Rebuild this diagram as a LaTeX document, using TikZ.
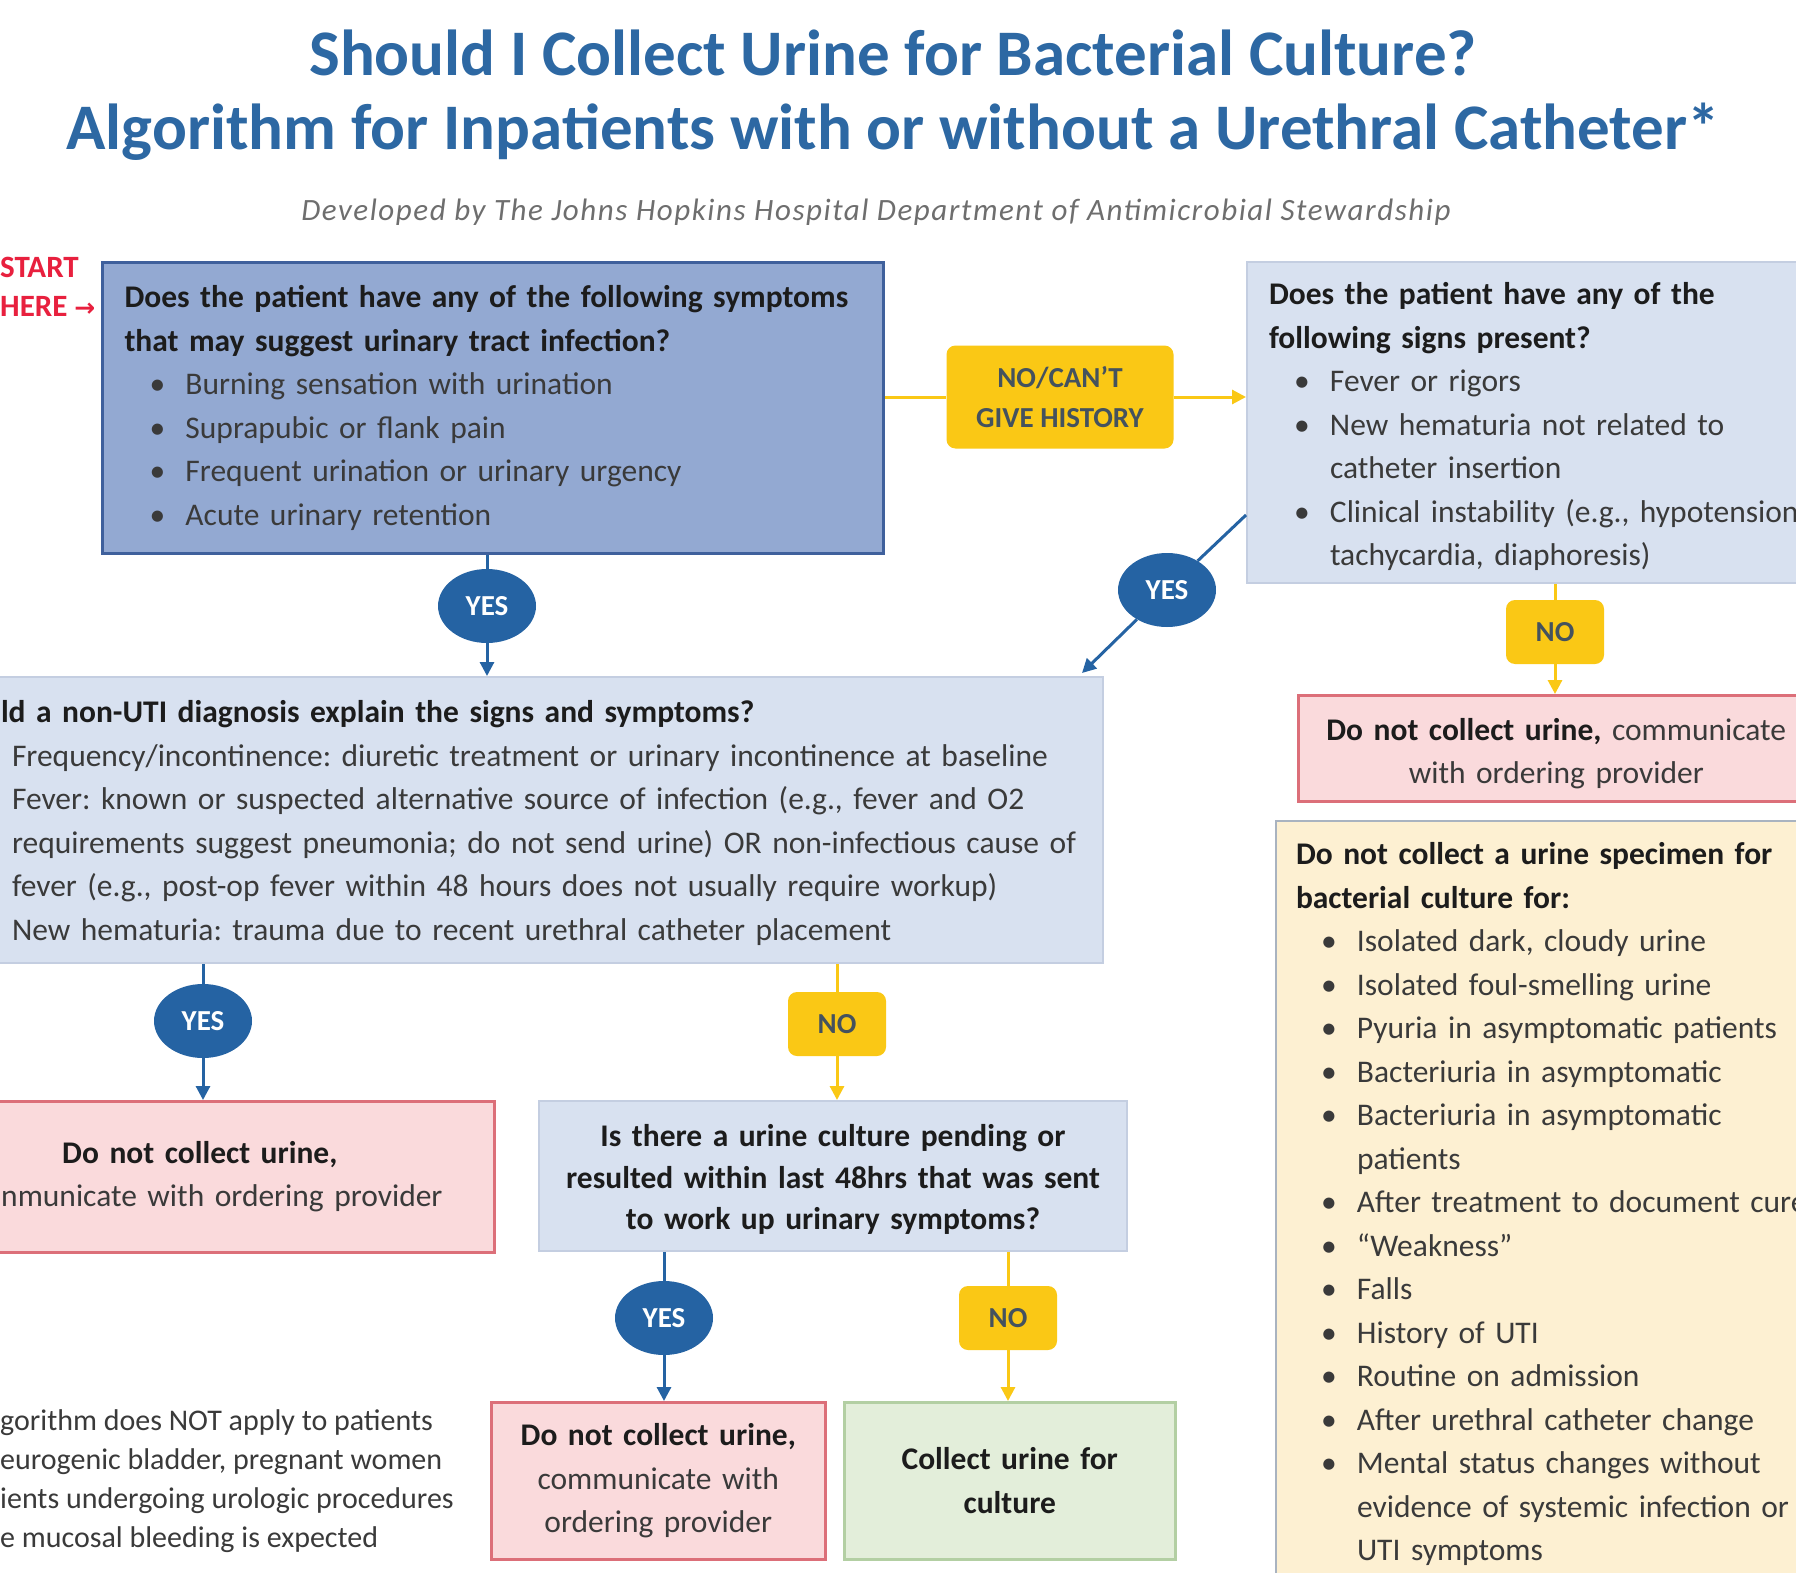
\documentclass[tikz,border=0pt]{standalone}
\usepackage{fontspec}
\setmainfont{Carlito}
\newfontfamily\symfont{DejaVu Sans}
\usetikzlibrary{shapes,arrows.meta}
\frenchspacing

\definecolor{titleblue}{HTML}{2D68A3}
\definecolor{creditgray}{HTML}{6E6E6E}
\definecolor{darkq}{HTML}{93A9D2}
\definecolor{darkqline}{HTML}{3F609C}
\definecolor{lightq}{HTML}{D8E1F0}
\definecolor{lightqline}{HTML}{C4CEE1}
\definecolor{stopfill}{HTML}{FADADC}
\definecolor{stopline}{HTML}{DC6F79}
\definecolor{notefill}{HTML}{FDF0D2}
\definecolor{noteline}{HTML}{A9B3C0}
\definecolor{gofill}{HTML}{E3EEDA}
\definecolor{goline}{HTML}{B3CFA3}
\definecolor{yesblue}{HTML}{2563A3}
\definecolor{noyellow}{HTML}{FAC815}
\definecolor{nolabel}{HTML}{44525E}
\definecolor{startred}{HTML}{E8203E}
\definecolor{bodytext}{HTML}{3A3A3A}
\definecolor{headtext}{HTML}{1C1C1C}

\newcommand{\hd}[1]{\textbf{\color{headtext}#1}}
\newcommand{\bul}{\hspace*{25pt}\makebox[36pt][l]{\textbullet}}
\newcommand{\cont}{\hspace*{61pt}}
\newcommand{\topgap}[1]{\rule{0pt}{#1}}
\newcommand{\boxfont}{\fontsize{31.5}{43.5}\selectfont}
\newcommand{\tagfont}{\fontsize{29}{40}\selectfont\bfseries}

\tikzstyle{arrow}=[-{Triangle[length=14pt,width=14pt]}]
\tikzstyle{blueline}=[draw=yesblue, line width=3pt]
\tikzstyle{yellowline}=[draw=noyellow, line width=3pt]
\tikzstyle{qbox}=[draw=lightqline, fill=lightq, line width=2pt, anchor=north west, font=\boxfont, text=bodytext]
\tikzstyle{stopbox}=[draw=stopline, fill=stopfill, line width=2.5pt, anchor=north west, font=\boxfont, text=bodytext]
\tikzstyle{yesbadge}=[ellipse, fill=yesblue, text=white, font=\tagfont, minimum width=98pt, minimum height=74pt, inner sep=0pt]
\tikzstyle{nobadge}=[rectangle, rounded corners=9pt, fill=noyellow, text=nolabel, font=\tagfont, minimum width=98pt, minimum height=64pt, inner sep=0pt]

\begin{document}
\begin{tikzpicture}[x=1pt, y=-1pt]
\useasboundingbox (0,0) rectangle (1796,1573);
\fill[white] (0,0) rectangle (1796,1573);
\clip (0,0) rectangle (1796,1573);

\node[anchor=base, text=titleblue, font=\fontsize{65}{74}\selectfont\bfseries] (title) at (893,76) {Should I Collect Urine for Bacterial Culture?};
\node[anchor=base, text=titleblue, font=\fontsize{65}{74}\selectfont\bfseries] (subtitle) at (893,150) {Algorithm for Inpatients with or without a Urethral Catheter*};
\node[anchor=base, text=creditgray, font=\fontsize{31}{40}\selectfont\itshape\addfontfeatures{LetterSpace=5}] (credit) at (876,221) {Developed by The Johns Hopkins Hospital Department of Antimicrobial Stewardship};

\node[anchor=base west, inner sep=0pt, text=startred, font=\fontsize{31}{39}\selectfont\bfseries] (start) at (0,277) {START};
\node[anchor=base west, inner sep=0pt, text=startred, font=\fontsize{31}{39}\selectfont\bfseries] (here) at (0,316) {HERE {\symfont\fontsize{25}{30}\selectfont →}};

\node[draw=darkqline, fill=darkq, line width=3pt, anchor=north west, font=\boxfont, text=bodytext,
  minimum width=781pt, minimum height=291pt, text width=737pt, inner xsep=22pt, align=left] (symptoms) at (101,261)
  {\hd{Does the patient have any of the following symptoms}\\
   \hd{that may suggest urinary tract infection?}\\
   \bul Burning sensation with urination\\
   \bul Suprapubic or flank pain\\
   \bul Frequent urination or urinary urgency\\
   \bul Acute urinary retention};

\node[qbox, minimum width=680pt, minimum height=321pt, text width=636pt, inner xsep=22pt, align=left] (signs) at (1246,261)
  {\topgap{31pt}\hd{Does the patient have any of the}\\
   \hd{following signs present?}\\
   \bul Fever or rigors\\
   \bul New hematuria not related to\\
   \cont catheter insertion\\
   \bul Clinical instability (e.g., hypotension,\\
   \cont tachycardia, diaphoresis)};

\node[qbox, minimum width=1122pt, minimum height=286pt, text width=1102pt, inner xsep=10pt, align=left] (diag) at (-20,676)
  {\topgap{28pt}\hspace*{10pt}\hd{ld a non-UTI diagnosis explain the signs and symptoms?}\\
   \hspace*{21pt}Frequency/incontinence: diuretic treatment or urinary incontinence at baseline\\
   \hspace*{21pt}Fever: known or suspected alternative source of infection (e.g., fever and O2\\
   \hspace*{21pt}requirements suggest pneumonia; do not send urine) OR non-infectious cause of\\
   \hspace*{21pt}fever (e.g., post-op fever within 48 hours does not usually require workup)\\
   \hspace*{21pt}New hematuria: trauma due to recent urethral catheter placement};

\node[stopbox, minimum width=593pt, minimum height=151pt, text width=573pt, inner xsep=10pt, align=left] (stopleft) at (-100,1100)
  {\hspace*{151pt}\hd{Do not collect urine,}\\
   \hspace*{90pt}nmunicate with ordering provider};

\node[stopbox, minimum width=516pt, minimum height=106pt, text width=496pt, inner xsep=10pt, align=center] (stopright) at (1297,694)
  {\topgap{33pt}\hd{Do not collect urine,} communicate\\
   with ordering provider};

\node[draw=noteline, fill=notefill, line width=2pt, anchor=north west, font=\boxfont, text=bodytext,
  minimum width=640pt, minimum height=766pt, text width=600pt, inner xsep=20pt, align=left] (avoid) at (1275,820)
  {\hd{Do not collect a urine specimen for}\\
   \hd{bacterial culture for:}\\
   \bul Isolated dark, cloudy urine\\
   \bul Isolated foul-smelling urine\\
   \bul Pyuria in asymptomatic patients\\
   \bul Bacteriuria in asymptomatic\\
   \bul Bacteriuria in asymptomatic\\
   \cont patients\\
   \bul After treatment to document cure\\
   \bul “Weakness”\\
   \bul Falls\\
   \bul History of UTI\\
   \bul Routine on admission\\
   \bul After urethral catheter change\\
   \bul Mental status changes without\\
   \cont evidence of systemic infection or\\
   \cont UTI symptoms};

\node[qbox, font=\fontsize{31.5}{41.5}\selectfont, minimum width=588pt, minimum height=150pt, text width=568pt, inner xsep=10pt, align=center] (pending) at (538,1100)
  {\topgap{29pt}\hd{Is there a urine culture pending or}\\
   \hd{resulted within last 48hrs that was sent}\\
   \hd{to work up urinary symptoms?}};

\node[stopbox, minimum width=334pt, minimum height=157pt, text width=314pt, inner xsep=10pt, align=center] (stopyes) at (490,1401)
  {\hd{Do not collect urine,}\\
   communicate with\\
   ordering provider};

\node[draw=goline, fill=gofill, line width=2.5pt, anchor=north west, font=\boxfont, text=bodytext,
  minimum width=331pt, minimum height=157pt, text width=311pt, inner xsep=10pt, align=center] (collect) at (843,1401)
  {\hd{Collect urine for}\\
   \hd{culture}};

\node[anchor=north west, inner sep=0pt, align=left, text=bodytext, font=\fontsize{30}{39}\selectfont] (footnote) at (0,1409)
  {gorithm does NOT apply to patients\\
   eurogenic bladder, pregnant women\\
   ients undergoing urologic procedures\\
   e mucosal bleeding is expected};

\node[nobadge, minimum width=227pt, minimum height=103pt, align=center] (nocant) at (1060,397) {NO/CAN'T\\GIVE HISTORY};
\node[yesbadge] (yes1) at (487,606) {YES};
\node[yesbadge] (yes2) at (1167,590) {YES};
\node[nobadge] (no2) at (1555,632) {NO};
\node[yesbadge] (yes3) at (203,1021) {YES};
\node[nobadge] (no3) at (837,1024) {NO};
\node[yesbadge] (yes4) at (664,1318) {YES};
\node[nobadge] (no4) at (1008,1318) {NO};

\coordinate (signsexit) at (1246,515);
\coordinate (diagentry) at (1082,673);

\draw[yellowline] (symptoms.east |- nocant) -- (nocant);
\draw[yellowline, arrow] (nocant) -- (signs.west |- nocant);
\draw[blueline, arrow] (symptoms.south -| yes1) -- (yes1) -- (yes1 |- diag.north);
\draw[blueline, arrow] (signsexit) -- (yes2) -- (diagentry);
\draw[yellowline, arrow] (signs.south -| no2) -- (no2) -- (no2 |- stopright.north);
\draw[blueline, arrow] (diag.south -| yes3) -- (yes3) -- (yes3 |- stopleft.north);
\draw[yellowline, arrow] (diag.south -| no3) -- (no3) -- (no3 |- pending.north);
\draw[blueline, arrow] (pending.south -| yes4) -- (yes4) -- (yes4 |- stopyes.north);
\draw[yellowline, arrow] (pending.south -| no4) -- (no4) -- (no4 |- collect.north);

\end{tikzpicture}
\end{document}
